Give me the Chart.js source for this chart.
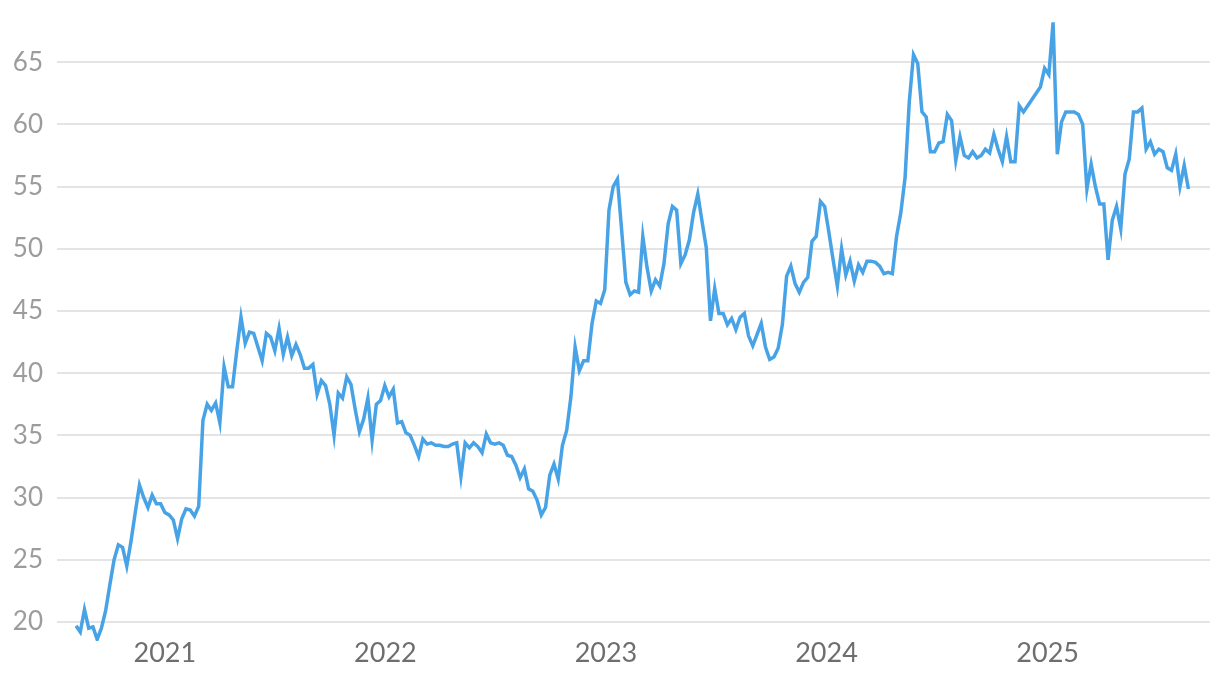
<!DOCTYPE html>
<html lang="en">
<head>
    <meta charset="UTF-8">
    <title>Weekly series 2020-2025</title>
    <script src="https://cdn.jsdelivr.net/npm/chart.js"></script>
    <style>
        html, body { margin: 0; padding: 0; background: #fff; }
        .wrap { width: 1220px; height: 678px; position: relative; }
    </style>
</head>
<body>
    <div class="wrap">
        <canvas id="lineChart"></canvas>
    </div>

    <script>
        // weekly readings, first one on the start date below
        const startDate = [2020, 7, 7];
        const values = [
            19.7, 19.2, 21.0, 19.5, 19.6, 18.6, 19.5, 20.9, 23.0, 25.0,
            26.2, 26.0, 24.5, 26.5, 28.8, 31.0, 30.0, 29.2, 30.2, 29.5,
            29.5, 28.8, 28.6, 28.2, 26.7, 28.3, 29.1, 29.0, 28.5, 29.3,
            36.2, 37.5, 37.0, 37.6, 36.0, 40.5, 38.9, 38.9, 41.8, 44.5,
            42.4, 43.3, 43.2, 42.1, 41.0, 43.2, 42.9, 41.8, 43.6, 41.5,
            42.9, 41.4, 42.3, 41.5, 40.4, 40.4, 40.7, 38.3, 39.4, 39.0,
            37.5, 35.0, 38.4, 38.0, 39.7, 39.1, 37.1, 35.3, 36.3, 38.0,
            34.6, 37.5, 37.8, 39.0, 38.1, 38.7, 36.0, 36.1, 35.2, 35.0,
            34.2, 33.3, 34.7, 34.3, 34.4, 34.2, 34.2, 34.1, 34.1, 34.3,
            34.4, 31.7, 34.4, 34.0, 34.4, 34.1, 33.6, 35.1, 34.4, 34.3,
            34.4, 34.2, 33.4, 33.3, 32.6, 31.6, 32.3, 30.7, 30.5, 29.8,
            28.6, 29.2, 31.8, 32.7, 31.5, 34.2, 35.4, 38.1, 42.1, 40.2,
            41.0, 41.0, 44.0, 45.8, 45.6, 46.7, 53.1, 55.0, 55.6, 51.5,
            47.3, 46.3, 46.6, 46.5, 51.0, 48.5, 46.6, 47.5, 47.0, 48.8,
            52.0, 53.4, 53.1, 48.8, 49.5, 50.7, 52.9, 54.4, 52.2, 50.1,
            44.2, 46.8, 44.8, 44.8, 43.9, 44.4, 43.5, 44.5, 44.8, 43.0,
            42.2, 43.1, 44.0, 42.1, 41.1, 41.3, 42.0, 43.9, 47.8, 48.6,
            47.2, 46.5, 47.3, 47.7, 50.6, 51.0, 53.8, 53.4, 51.3, 49.1,
            47.0, 50.0, 47.9, 49.0, 47.4, 48.7, 48.1, 49.0, 49.0, 48.9,
            48.6, 48.0, 48.1, 48.0, 51.0, 52.9, 55.7, 61.8, 65.6, 64.9,
            61.0, 60.6, 57.8, 57.8, 58.5, 58.6, 60.8, 60.3, 57.1, 59.0,
            57.5, 57.3, 57.8, 57.3, 57.5, 58.0, 57.7, 59.2, 58.0, 57.0,
            59.0, 57.0, 57.0, 61.5, 61.0, 61.5, 62.0, 62.5, 63.0, 64.5,
            64.0, 68.2, 57.6, 60.2, 61.0, 61.0, 61.0, 60.8, 60.0, 54.8,
            56.8, 55.0, 53.6, 53.6, 49.1, 52.3, 53.4, 51.6, 56.0, 57.2,
            61.0, 61.0, 61.3, 58.0, 58.6, 57.6, 58.0, 57.8, 56.5, 56.3,
            57.6, 55.0, 56.7, 54.8
        ];
        const yearLabels = [2021, 2022, 2023, 2024, 2025];
        const yTicks = [20, 25, 30, 35, 40, 45, 50, 55, 60, 65];

        const WEEK = 7 * 24 * 3600 * 1000;
        const t0 = Date.UTC(startDate[0], startDate[1], startDate[2]);
        const yearPos = yearLabels.map(y => (Date.UTC(y, 0, 1) - t0) / WEEK);
        const points = values.map((v, i) => ({ x: i, y: v }));

        // keep chart.js from reserving room for half tick labels at the edges
        function noEdgePadding(axis) {
            axis.paddingTop = 0;
            axis.paddingBottom = 0;
            axis.paddingLeft = 0;
            axis.paddingRight = 0;
        }

        new Chart(document.getElementById('lineChart'), {
            type: 'line',
            data: {
                datasets: [{
                    data: points,
                    borderColor: '#48a3e6',
                    borderWidth: 3.5,
                    pointRadius: 0,
                    fill: false,
                    tension: 0
                }]
            },
            options: {
                responsive: true,
                maintainAspectRatio: false,
                animation: false,
                layout: { padding: { top: 9, right: 10, bottom: 0, left: 0 } },
                plugins: {
                    legend: { display: false },
                    tooltip: { enabled: false }
                },
                scales: {
                    x: {
                        type: 'linear',
                        min: -4.5,
                        max: 268.1,
                        grid: { display: false },
                        border: { display: false },
                        afterBuildTicks: axis => { axis.ticks = yearPos.map(p => ({ value: p })); },
                        afterFit: axis => { axis.height = 37; noEdgePadding(axis); },
                        ticks: {
                            padding: -12,
                            maxRotation: 0,
                            autoSkip: false,
                            color: '#6e6e6e',
                            font: { family: 'Lato', size: 27 },
                            callback: (v, i) => String(yearLabels[i])
                        }
                    },
                    y: {
                        min: 18.47,
                        max: 69.27,
                        grid: { color: '#e4e4e4', lineWidth: 2, drawTicks: false },
                        border: { display: false },
                        afterBuildTicks: axis => { axis.ticks = yTicks.map(v => ({ value: v })); },
                        afterFit: axis => { axis.width = 57; noEdgePadding(axis); },
                        ticks: {
                            padding: 14,
                            color: '#9c9c9c',
                            font: { family: 'Lato', size: 26 },
                            callback: v => String(v)
                        }
                    }
                }
            }
        });
    </script>
</body>
</html>
